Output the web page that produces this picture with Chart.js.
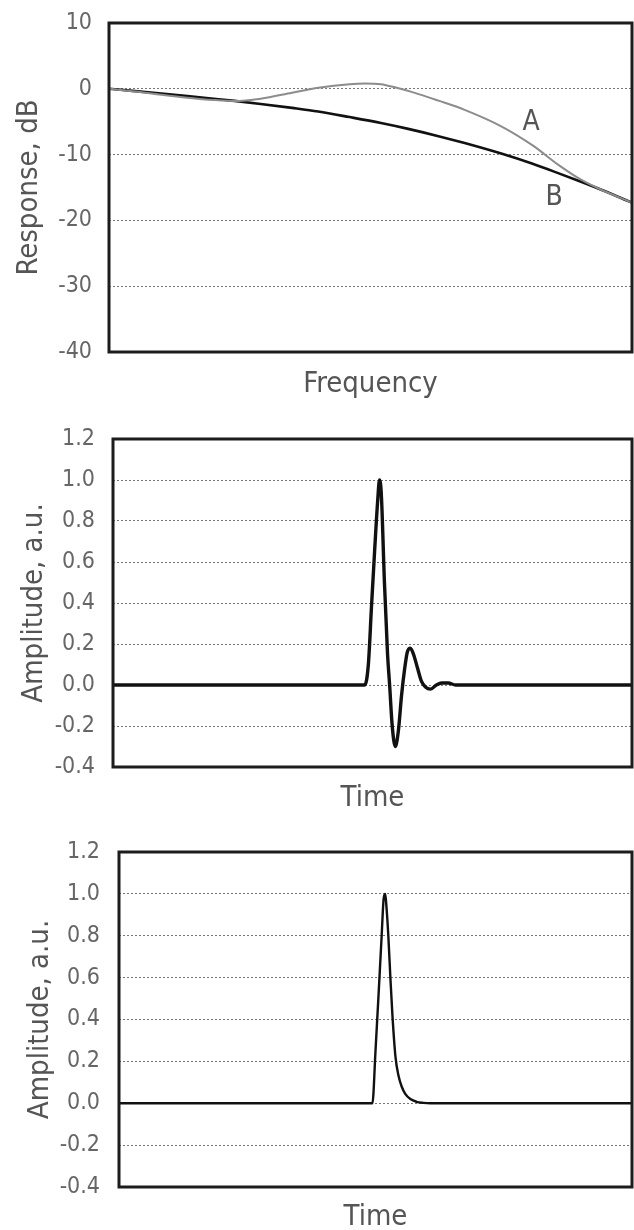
<!DOCTYPE html>
<html>
<head>
<meta charset="utf-8">
<script src="https://cdn.jsdelivr.net/npm/chart.js@4/dist/chart.umd.min.js"></script>
<style>
  html, body { margin: 0; padding: 0; background: #fff; }
  .panel { position: absolute; left: 0; width: 634px; }
  #w1 { top: 0; height: 410px; }
  #w2 { top: 405px; height: 415px; }
  #w3 { top: 820px; height: 410px; }
</style>
</head>
<body>
<div class="panel" id="w1"><canvas id="c1" width="634" height="410"></canvas></div>
<div class="panel" id="w2"><canvas id="c2" width="634" height="415"></canvas></div>
<div class="panel" id="w3"><canvas id="c3" width="634" height="410"></canvas></div>
<script>
// ---------- Data ----------
// Panel 1: frequency response (normalized frequency axis, 0..100)
const frequencyA = [0, 5, 10, 15, 20, 24, 29, 35, 40, 46, 49, 52, 55, 58, 63, 68, 75, 81, 86, 90, 94, 100];
const responseA = [0, -0.4, -0.9, -1.35, -1.7, -1.85, -1.5, -0.6, 0.15, 0.7, 0.8, 0.7, 0.15, -0.5, -1.8, -3.2, -5.7, -8.6, -11.6, -13.7, -15.3, -17.3];
const frequencyB = [0, 5, 10, 15, 20, 24, 29, 35, 40, 46, 52, 57, 63, 68, 75, 81, 86, 90, 94, 100];
const responseB = [0, -0.35, -0.72, -1.1, -1.5, -1.83, -2.3, -2.9, -3.45, -4.3, -5.2, -6.05, -7.2, -8.25, -9.85, -11.4, -12.85, -14.05, -15.3, -17.3];
const responseTicks = [10, 0, -10, -20, -30, -40];
const seriesLabels = ['A', 'B'];
const labelPosA = [80.7, -5.2];
const labelPosB = [85.1, -16.5];

// Panel 2: impulse response with ringing (normalized time axis, 0..100)
const time2 = [0, 48.5, 49.2, 49.8, 50.4, 51.0, 51.35, 51.7, 52.3, 52.9, 53.3, 53.8, 54.4, 55.0, 55.6, 56.2, 56.7, 57.3, 57.9, 58.7, 59.4, 60.2, 61.2, 62.3, 63.3, 64.6, 66.0, 100];
const amplitude2 = [0, 0, 0.1, 0.38, 0.65, 0.9, 1.0, 0.93, 0.5, 0.15, 0.0, -0.2, -0.3, -0.22, -0.05, 0.08, 0.16, 0.18, 0.15, 0.08, 0.02, -0.01, -0.02, 0.0, 0.01, 0.01, 0, 0];

// Panel 3: impulse response without ringing
const time3 = [0, 49.4, 50.0, 50.6, 51.2, 51.6, 51.9, 52.1, 52.5, 52.9, 53.3, 53.9, 54.5, 55.1, 55.8, 56.8, 58.0, 59.3, 60.7, 100];
const amplitude3 = [0, 0, 0.25, 0.52, 0.8, 0.98, 1.0, 0.95, 0.8, 0.6, 0.42, 0.22, 0.13, 0.08, 0.045, 0.02, 0.007, 0.002, 0, 0];

const amplitudeTicks = [1.2, 1.0, 0.8, 0.6, 0.4, 0.2, 0.0, -0.2, -0.4];

// ---------- Styling ----------
const FAMILY = "'Liberation Sans Narrow', 'Arial Narrow', 'DejaVu Sans Condensed', 'Liberation Sans', sans-serif";
const TICK_COLOR = '#666';
const TITLE_COLOR = '#555';
const TICK_SIZE = 23;
const TITLE_SIZE = 29;

const framePlugin = {
  id: 'frame',
  afterDraw(chart) {
    const { ctx, chartArea: a } = chart;
    ctx.save();
    ctx.strokeStyle = '#1c1c1c';
    ctx.lineWidth = 3;
    ctx.strokeRect(a.left, a.top, a.right - a.left, a.bottom - a.top);
    ctx.restore();
  }
};

function pts(xs, ys) { return xs.map((x, i) => ({ x: x, y: ys[i] })); }

function makeChart(id, cfg) {
  const pad = cfg.pad;
  return new Chart(document.getElementById(id), {
    type: 'line',
    data: { datasets: cfg.datasets },
    options: {
      responsive: false,
      animation: false,
      events: [],
      layout: { padding: { top: pad.top, right: pad.right, left: 0, bottom: 0 } },
      plugins: { legend: { display: false }, tooltip: { enabled: false } },
      elements: { point: { radius: 0 } },
      scales: {
        x: {
          type: 'linear', min: 0, max: 100,
          grid: { display: false },
          border: { display: false },
          ticks: { display: false },
          title: {
            display: true, text: cfg.xTitle, color: TITLE_COLOR,
            font: { family: FAMILY, size: TITLE_SIZE, lineHeight: 1 },
            padding: { top: 0, bottom: cfg.xTitlePad }
          },
          afterFit(scale) { scale.height = cfg.xHeight; scale.paddingLeft = 0; scale.paddingRight = 0; }
        },
        y: {
          type: 'linear', min: cfg.yMin, max: cfg.yMax,
          afterBuildTicks(scale) { scale.ticks = cfg.yTicks.map(v => ({ value: v })); },
          grid: { color: '#777', lineWidth: 1, drawTicks: false },
          border: { display: false, dash: [2, 2] },
          ticks: {
            color: TICK_COLOR, padding: cfg.tickPad,
            font: { family: FAMILY, size: TICK_SIZE },
            callback: cfg.fmt
          },
          title: {
            display: true, text: cfg.yTitle, color: TITLE_COLOR,
            font: { family: FAMILY, size: TITLE_SIZE, lineHeight: 1 },
            padding: { top: cfg.yTitlePad, bottom: 0 }
          },
          afterFit(scale) { scale.width = cfg.yWidth; scale.paddingTop = 0; scale.paddingBottom = 0; }
        }
      }
    },
    plugins: [framePlugin].concat(cfg.extraPlugins || [])
  });
}

const labelPlugin = {
  id: 'seriesLabels',
  afterDatasetsDraw(chart) {
    const { ctx, scales } = chart;
    ctx.save();
    ctx.fillStyle = '#555';
    ctx.font = '28px ' + FAMILY;
    ctx.textAlign = 'center';
    ctx.textBaseline = 'middle';
    [labelPosA, labelPosB].forEach((p, i) => {
      ctx.fillText(seriesLabels[i], scales.x.getPixelForValue(p[0]), scales.y.getPixelForValue(p[1]));
    });
    ctx.restore();
  }
};

const fmt1 = v => (Math.abs(v) < 1e-9 ? '0.0' : v.toFixed(1));
const fmt0 = v => String(Math.round(v));

makeChart('c1', {
  pad: { top: 23, right: 2 },
  yWidth: 109, xHeight: 58, tickPad: 17, yTitlePad: 15, xTitlePad: 11,
  yMin: -40, yMax: 10, yTicks: responseTicks, fmt: fmt0,
  xTitle: 'Frequency', yTitle: 'Response, dB',
  datasets: [
    { data: pts(frequencyA, responseA), borderColor: '#8c8c8c', borderWidth: 2, cubicInterpolationMode: 'monotone', fill: false },
    { data: pts(frequencyB, responseB), borderColor: '#111', borderWidth: 2.6, cubicInterpolationMode: 'monotone', fill: false }
  ],
  extraPlugins: [labelPlugin]
});

makeChart('c2', {
  pad: { top: 34, right: 2 },
  yWidth: 113, xHeight: 53, tickPad: 18, yTitlePad: 20, xTitlePad: 7,
  yMin: -0.4, yMax: 1.2, yTicks: amplitudeTicks, fmt: fmt1,
  xTitle: 'Time', yTitle: 'Amplitude, a.u.',
  datasets: [
    { data: pts(time2, amplitude2), borderColor: '#111', borderWidth: 3.4, cubicInterpolationMode: 'monotone', fill: false }
  ]
});

makeChart('c3', {
  pad: { top: 32, right: 2 },
  yWidth: 119, xHeight: 43, tickPad: 19, yTitlePad: 26, xTitlePad: -2,
  yMin: -0.4, yMax: 1.2, yTicks: amplitudeTicks, fmt: fmt1,
  xTitle: 'Time', yTitle: 'Amplitude, a.u.',
  datasets: [
    { data: pts(time3, amplitude3), borderColor: '#111', borderWidth: 2.4, cubicInterpolationMode: 'monotone', fill: false }
  ]
});
</script>
</body>
</html>
